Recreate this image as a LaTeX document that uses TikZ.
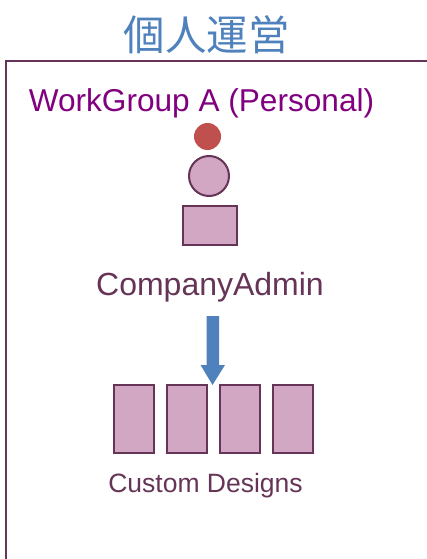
\documentclass[tikz,border=0pt]{standalone}
\usepackage{fontspec}
\setmainfont{Liberation Sans}
\newfontfamily\cjkjp{Noto Sans CJK JP}
\definecolor{framec}{HTML}{653456}
\definecolor{fillc}{HTML}{D1A7C3}
\definecolor{bluec}{HTML}{4F81BD}
\definecolor{redc}{HTML}{C0504D}
\definecolor{purplec}{HTML}{800080}
\tikzset{
  x=1pt,y=-1pt,
  lbl/.style={inner sep=0pt,anchor=base},
  part/.style={draw=framec,fill=fillc,line width=2pt},
  boxpart/.style={part,rectangle,inner sep=0pt,minimum width=40pt,minimum height=67.5pt},
  roundpart/.style={part,circle,inner sep=0pt,minimum size=40pt}
}
\begin{document}
\begin{tikzpicture}
\useasboundingbox (0,0) rectangle (427,559);
\draw[draw=framec,line width=2pt] (440,61.5) -- (5.5,61.5) -- (5.5,570);
\node[lbl,text=bluec,font=\cjkjp\fontsize{41.5}{46}\selectfont] (title) at (206.5,50.5) {個人運営};
\node[lbl,text=purplec,font=\fontsize{31.6}{36}\selectfont] (group) at (201.5,111) {WorkGroup A (Personal)};
\node[circle,fill=redc,inner sep=0pt,minimum size=27pt] (head) at (207.5,136.5) {};
\node[roundpart] (body) at (209,176) {};
\node[part,rectangle,inner sep=0pt,minimum width=54pt,minimum height=39pt] (base) at (210,225.5) {};
\node[lbl,text=framec,font=\fontsize{32}{36}\selectfont] (admin) at (210,295) {CompanyAdmin};
\fill[bluec] (206.5,316) -- (219,316) -- (219,365) -- (225,365) -- (212.5,385) -- (200.5,365) -- (206.5,365) -- cycle;
\node[boxpart] (d1) at (133.8,419) {};
\node[boxpart] (d2) at (187,419) {};
\node[boxpart] (d3) at (240.2,419) {};
\node[boxpart] (d4) at (293.2,419) {};
\node[lbl,text=framec,font=\fontsize{26.5}{30}\selectfont] (designs) at (205.5,492) {Custom Designs};
\end{tikzpicture}
\end{document}
